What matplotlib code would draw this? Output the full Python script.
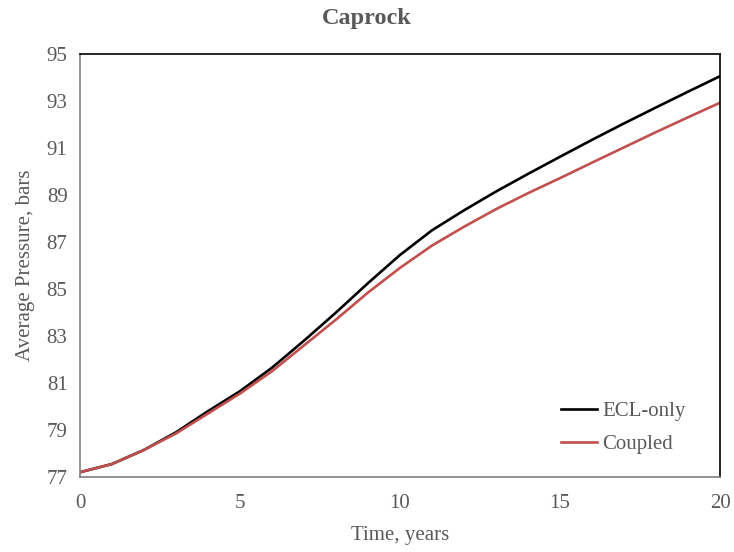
import matplotlib
matplotlib.use("Agg")
import matplotlib.pyplot as plt

years = list(range(0, 21))
ecl_only = [77.20, 77.55, 78.15, 78.90, 79.80, 80.65, 81.65, 82.80, 84.00, 85.25,
            86.45, 87.50, 88.35, 89.15, 89.90, 90.63, 91.35, 92.05, 92.73, 93.40, 94.06]
coupled = [77.20, 77.55, 78.15, 78.85, 79.70, 80.55, 81.50, 82.60, 83.70, 84.85,
           85.90, 86.85, 87.65, 88.40, 89.08, 89.72, 90.38, 91.03, 91.68, 92.31, 92.93]
x_ticks = [0, 5, 10, 15, 20]
y_ticks = [77, 79, 81, 83, 85, 87, 89, 91, 93, 95]

plt.rcParams['font.family'] = ['Liberation Serif', 'DejaVu Serif']
grey = '#595959'

fig = plt.figure(figsize=(7.34, 5.52), dpi=100)
ax = fig.add_axes([0.109, 0.136, 0.872, 0.766])

ax.plot(years, ecl_only, color='black', lw=1.9, label='ECL-only')
ax.plot(years, coupled, color='#C0504D', lw=1.9, label='Coupled')

ax.set_xlim(0, 20)
ax.set_ylim(77, 95)
ax.set_xticks(x_ticks)
ax.set_yticks(y_ticks)
ax.tick_params(length=0, labelsize=15, labelcolor=grey)
ax.tick_params(axis='x', pad=12)
ax.tick_params(axis='y', pad=9)

for side in ('top', 'right'):
    ax.spines[side].set_color('black')
    ax.spines[side].set_linewidth(1.2)
for side in ('bottom', 'left'):
    ax.spines[side].set_color('#7f7f7f')
    ax.spines[side].set_linewidth(1.2)

fig.text(0.5, 0.966, 'Caprock', fontsize=17.5, fontweight='bold', color=grey,
         ha='center', va='center')
ax.set_xlabel('Time, years', fontsize=15, color=grey, labelpad=10)
ax.set_ylabel('Average Pressure, bars', fontsize=15, color=grey, labelpad=8)

leg = ax.legend(loc='lower right', frameon=False, fontsize=15,
                handlelength=1.7, handletextpad=0.25, labelspacing=0.65,
                bbox_to_anchor=(0.975, 0.01))
for t in leg.get_texts():
    t.set_color(grey)

fig.savefig('out.png', dpi=100)
